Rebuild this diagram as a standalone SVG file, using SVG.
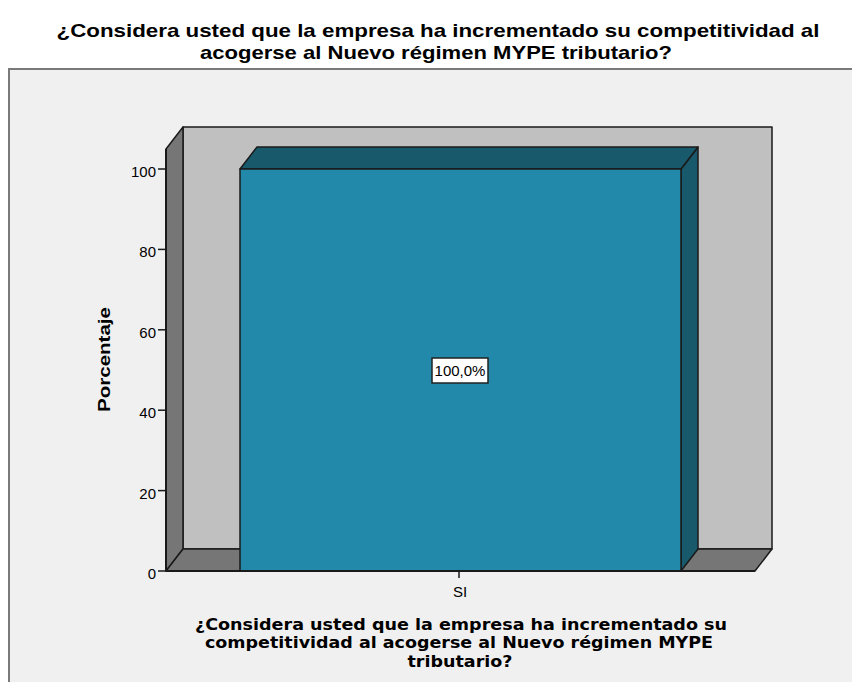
<svg xmlns="http://www.w3.org/2000/svg" width="852" height="682" viewBox="0 0 852 682">
<style>
.title{font-family:"Liberation Sans",Arial,sans-serif;font-weight:bold;font-size:18.5px;fill:#000;text-anchor:middle}
.xtitle{font-family:"DejaVu Sans",Verdana,sans-serif;font-weight:bold;font-size:16px;fill:#000;text-anchor:middle}
.tick{font-family:"Liberation Sans",Arial,sans-serif;font-size:15px;fill:#000}
.edge{stroke:#1a1a1a;stroke-width:1.5;stroke-linejoin:round}
</style>
<rect x="0" y="0" width="852" height="682" fill="#ffffff"/>
<g id="title">
<text class="title" x="438" y="37" textLength="763" lengthAdjust="spacingAndGlyphs">¿Considera usted que la empresa ha incrementado su competitividad al</text>
<text class="title" x="436" y="59" textLength="472" lengthAdjust="spacingAndGlyphs">acogerse al Nuevo régimen MYPE tributario?</text>
</g>
<g id="frame">
<rect x="9" y="69" width="900" height="700" fill="#f0f0f0" stroke="#7a7a7a" stroke-width="2"/>
</g>
<g id="chart-box">
<polygon class="edge" points="183,127 772,127 772,549 183,549" fill="#c0c0c0"/>
<polygon class="edge" points="166,149 183,127 183,549 166,571" fill="#767676"/>
<polygon class="edge" points="166,571 183,549 772,549 755,571" fill="#767676"/>
</g>
<g id="bar-SI">
<polygon class="edge" points="681,169 698,147 698,549 681,571" fill="#19596c"/>
<polygon class="edge" points="240,169 257,147 698,147 681,169" fill="#19596c"/>
<rect class="edge" x="240" y="169" width="441" height="402" fill="#2389ab"/>
</g>
<g id="value-label">
<rect x="432" y="358" width="56" height="25" fill="#ffffff" stroke="#222" stroke-width="1.5"/>
<text class="tick" x="460" y="376" text-anchor="middle">100,0%</text>
</g>
<g id="y-axis">
<line x1="166" y1="149" x2="166" y2="571" stroke="#1a1a1a" stroke-width="2"/>
<g stroke="#1a1a1a" stroke-width="1.5">
<line x1="158" y1="169" x2="166" y2="169"/>
<line x1="158" y1="249.4" x2="166" y2="249.4"/>
<line x1="158" y1="329.8" x2="166" y2="329.8"/>
<line x1="158" y1="410.2" x2="166" y2="410.2"/>
<line x1="158" y1="490.6" x2="166" y2="490.6"/>
<line x1="158" y1="571" x2="166" y2="571"/>
</g>
<g class="tick" text-anchor="end">
<text x="156" y="177">100</text>
<text x="156" y="257.4">80</text>
<text x="156" y="337.8">60</text>
<text x="156" y="418.2">40</text>
<text x="156" y="498.6">20</text>
<text x="156" y="579">0</text>
</g>
<text x="110" y="359.5" transform="rotate(-90 110 359.5)" font-family="Liberation Sans, Arial, sans-serif" font-weight="bold" font-size="17" text-anchor="middle" textLength="105" lengthAdjust="spacingAndGlyphs">Porcentaje</text>
</g>
<g id="x-axis">
<line x1="166" y1="571" x2="755" y2="571" stroke="#1a1a1a" stroke-width="2"/>
<line x1="459" y1="571" x2="459" y2="578" stroke="#1a1a1a" stroke-width="1.5"/>
<text class="tick" x="460" y="597" text-anchor="middle">SI</text>
<text class="xtitle" x="461" y="630" textLength="532" lengthAdjust="spacingAndGlyphs">¿Considera usted que la empresa ha incrementado su</text>
<text class="xtitle" x="459" y="648" textLength="508" lengthAdjust="spacingAndGlyphs">competitividad al acogerse al Nuevo régimen MYPE</text>
<text class="xtitle" x="460" y="667" textLength="105" lengthAdjust="spacingAndGlyphs">tributario?</text>
</g>
</svg>
